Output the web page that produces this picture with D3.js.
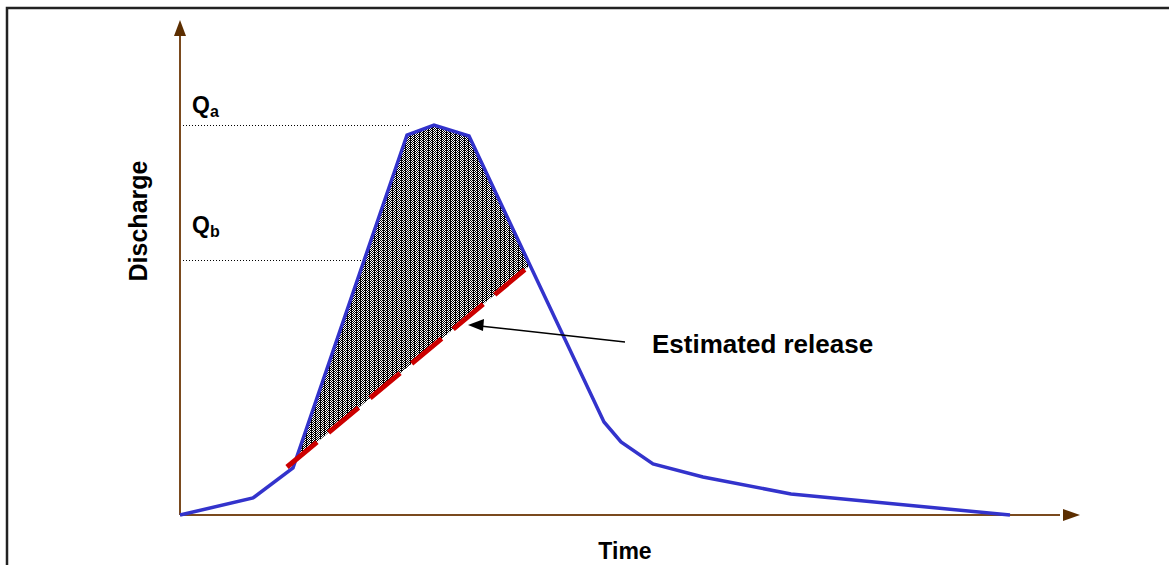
<!DOCTYPE html>
<html>
<head>
<meta charset="utf-8">
<script src="https://cdn.jsdelivr.net/npm/d3@7"></script>
<style>
  html, body { margin: 0; padding: 0; background: #fff; overflow: hidden; }
  svg { display: block; }
  text { font-family: "Liberation Sans", Arial, sans-serif; font-weight: bold; fill: #000; }
</style>
</head>
<body>
<svg id="chart" width="1169" height="565"></svg>
<script>
// ---- data ----
const time      = [0, 7.3, 11.3, 22.7, 25.4, 28.9, 42.4, 44.1, 47.3, 52.3, 61.1, 83.0];
const discharge = [0, 3.4, 9.4, 76.0, 78.0, 75.8, 18.6, 14.6, 10.2, 7.6, 4.2, 0];
const releaseTime      = [10.7, 34.8];
const releaseDischarge = [9.6, 49.6];
const levelNames  = ["a", "b"];
const levelValues = [78, 51];
const levelEnds   = [23.0, 34.8];
const xLabel = "Time";
const yLabel = "Discharge";
const annotation = "Estimated release";

// ---- layout ----
const svg = d3.select("#chart");
const x = d3.scaleLinear().domain([0, 90]).range([180, 1080]);
const y = d3.scaleLinear().domain([0, 99]).range([515, 20]);

// frame
svg.append("rect").attr("x", 7).attr("y", 8).attr("width", 1180).attr("height", 600)
  .attr("fill", "none").attr("stroke", "#222").attr("stroke-width", 2.5);

// pattern for the shaded area (dithered grey with dark vertical stripes)
const defs = svg.append("defs");
const pw = 9;
const pat = defs.append("pattern").attr("id", "dither").attr("patternUnits", "userSpaceOnUse")
  .attr("width", pw).attr("height", 2);
pat.append("rect").attr("width", pw).attr("height", 2).attr("fill", "#fff");
for (let i = 0; i < pw; i++) {
  for (let j = 0; j < 2; j++) {
    if ((i + j) % 2 === 0 || i === 0 || i === 5) {
      pat.append("rect").attr("x", i).attr("y", j).attr("width", 1).attr("height", 1).attr("fill", "#000");
    }
  }
}

const pts = time.map((t, i) => [t, discharge[i]]);

// reference levels (dotted)
levelValues.forEach((v, i) => {
  svg.append("line")
    .attr("x1", x(0)).attr("x2", x(levelEnds[i]))
    .attr("y1", Math.round(y(v)) + 0.5).attr("y2", Math.round(y(v)) + 0.5)
    .attr("stroke", "#000").attr("stroke-width", 1).attr("stroke-dasharray", "1,2");
});

// shaded region between hydrograph and estimated release line
function releaseAt(t) {
  const k = (t - releaseTime[0]) / (releaseTime[1] - releaseTime[0]);
  return releaseDischarge[0] + k * (releaseDischarge[1] - releaseDischarge[0]);
}
function curveAt(t) {
  for (let i = 0; i < pts.length - 1; i++) {
    if (t >= pts[i][0] && t <= pts[i + 1][0]) {
      const k = (t - pts[i][0]) / (pts[i + 1][0] - pts[i][0]);
      return pts[i][1] + k * (pts[i + 1][1] - pts[i][1]);
    }
  }
  return 0;
}
let tStart = releaseTime[0];
for (let i = 0; i < pts.length - 1; i++) {
  const [t0, q0] = pts[i], [t1, q1] = pts[i + 1];
  const d0 = q0 - releaseAt(t0), d1 = q1 - releaseAt(t1);
  if (t1 > releaseTime[0] && d0 <= 0 && d1 > 0) {
    tStart = t0 + (t1 - t0) * (-d0) / (d1 - d0);
    break;
  }
}
const tEnd = releaseTime[1];
const poly = [[tStart, releaseAt(tStart)]];
pts.forEach(p => { if (p[0] > tStart && p[0] < tEnd) poly.push(p); });
poly.push([tEnd, curveAt(tEnd)]);
poly.push([tEnd, releaseAt(tEnd)]);
svg.append("path")
  .attr("d", d3.line().x(d => x(d[0])).y(d => y(d[1]))(poly) + "Z")
  .attr("fill", "url(#dither)").attr("stroke", "none");

// axes with arrows
const axisCol = "#7a4a1e", arrowCol = "#5c2e00";
svg.append("line").attr("x1", x(0)).attr("y1", y(0)).attr("x2", x(0)).attr("y2", y(96))
  .attr("stroke", axisCol).attr("stroke-width", 2);
svg.append("line").attr("x1", x(0)).attr("y1", y(0)).attr("x2", x(88)).attr("y2", y(0))
  .attr("stroke", axisCol).attr("stroke-width", 2);
svg.append("path")
  .attr("d", `M${x(0)},${y(99)} L${x(0) - 6},${y(99) + 16} L${x(0) + 6},${y(99) + 16} Z`)
  .attr("fill", arrowCol);
svg.append("path")
  .attr("d", `M${x(90)},${y(0)} L${x(90) - 17},${y(0) - 6} L${x(90) - 17},${y(0) + 6} Z`)
  .attr("fill", arrowCol);

// hydrograph
svg.append("path")
  .attr("d", d3.line().x(d => x(d[0])).y(d => y(d[1]))(pts))
  .attr("fill", "none").attr("stroke", "#3333cc").attr("stroke-width", 3.5)
  .attr("stroke-linejoin", "miter");

// estimated release (red dashed)
svg.append("line")
  .attr("x1", x(releaseTime[0])).attr("y1", y(releaseDischarge[0]))
  .attr("x2", x(releaseTime[1])).attr("y2", y(releaseDischarge[1]))
  .attr("stroke", "#cc0000").attr("stroke-width", 5).attr("stroke-dasharray", "39,15");

// level labels
const levelLabelY = [113, 233];
levelNames.forEach((n, i) => {
  const t = svg.append("text").attr("x", 192).attr("y", levelLabelY[i]).style("font-size", "23px");
  t.append("tspan").text("Q");
  t.append("tspan").attr("dy", 4).style("font-size", "16px").text(n);
});

// annotation arrow
svg.append("path").attr("d", "M625,342 L480,326").attr("stroke", "#000").attr("stroke-width", 1.5).attr("fill", "none");
svg.append("path").attr("d", "M468,325 L484,319 L483,331 Z").attr("fill", "#000");
svg.append("text").attr("x", 652).attr("y", 353).style("font-size", "26px").text(annotation);

// axis titles
svg.append("text").attr("x", 625).attr("y", 559).attr("text-anchor", "middle").style("font-size", "23px").text(xLabel);
svg.append("text").attr("transform", "translate(147,221) rotate(-90)").attr("text-anchor", "middle")
  .style("font-size", "25px").text(yLabel);
</script>
</body>
</html>
